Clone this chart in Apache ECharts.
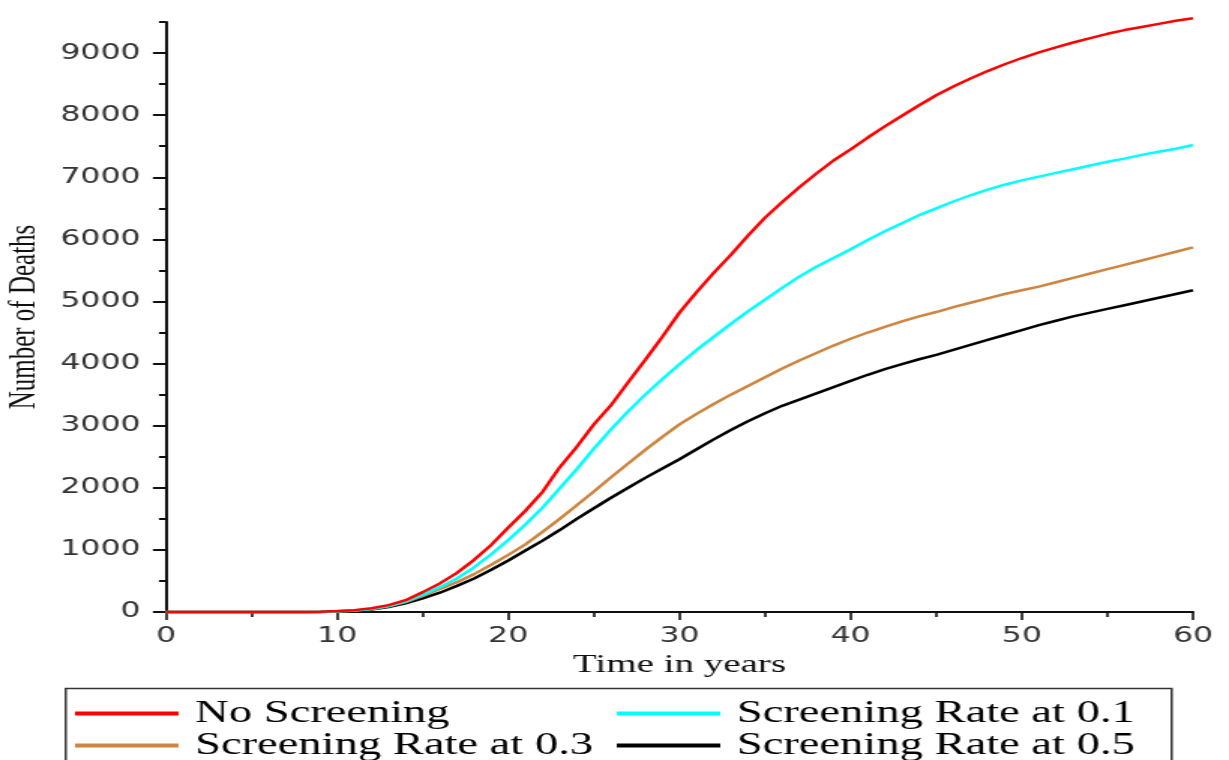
<!DOCTYPE html>
<html>
<head>
<meta charset="utf-8">
<script src="https://cdn.jsdelivr.net/npm/echarts@6/dist/echarts.min.js"></script>
<style>
html,body{margin:0;padding:0;background:#fff;overflow:hidden;}
#wrap{width:1229px;height:760px;overflow:hidden;position:relative;}
#chart{width:819px;height:760px;transform:scaleX(1.50061);transform-origin:0 0;}
</style>
</head>
<body>
<div id="wrap"><div id="chart"></div></div>
<script>
// Time in years
const years = [0,1,2,3,4,5,6,7,8,9,10,11,12,13,14,15,16,17,18,19,20,21,22,23,24,25,26,27,28,29,30,31,32,33,34,35,36,37,38,39,40,41,42,43,44,45,46,47,48,49,50,51,52,53,54,55,56,57,58,59,60];
// Number of deaths per scenario
const noScreening = [0,0,0,0,0,0,0,0,0,5,15,30,60,110,190,320,460,630,840,1080,1360,1630,1935,2330,2660,3020,3330,3700,4060,4433,4821,5150,5460,5750,6060,6350,6600,6840,7060,7270,7450,7640,7820,7990,8160,8320,8460,8590,8710,8820,8920,9010,9090,9170,9240,9310,9370,9420,9470,9520,9560];
const rate01 = [0,0,0,0,0,0,0,0,0,3,12,25,50,95,170,280,400,540,720,930,1160,1410,1680,1990,2300,2630,2940,3230,3500,3750,3990,4220,4430,4640,4840,5030,5220,5400,5560,5700,5840,5990,6130,6260,6390,6500,6610,6710,6800,6880,6950,7010,7070,7130,7190,7250,7300,7360,7410,7460,7520];
const rate03 = [0,0,0,0,0,0,0,0,0,2,10,22,45,90,160,260,370,480,610,760,920,1090,1290,1500,1720,1940,2170,2390,2610,2820,3020,3190,3350,3500,3640,3780,3920,4050,4170,4290,4400,4500,4590,4680,4760,4830,4910,4980,5050,5120,5180,5240,5310,5380,5450,5520,5590,5660,5730,5800,5870];
const rate05 = [0,0,0,0,0,0,0,0,0,2,8,20,40,80,140,220,310,420,540,680,830,990,1150,1320,1500,1670,1840,2000,2160,2310,2460,2620,2780,2930,3070,3200,3320,3420,3520,3620,3720,3820,3910,3990,4070,4140,4220,4300,4380,4460,4540,4620,4690,4760,4820,4880,4940,5000,5060,5120,5180];
// Tick values
const xTicks = [0,10,20,30,40,50,60];
const yMajorTicks = [0,1000,2000,3000,4000,5000,6000,7000,8000,9000];
const yMinorTicks = [500,1500,2500,3500,4500,5500,6500,7500,8500,9500];
const seriesNames = ['No Screening','Screening Rate at 0.1','Screening Rate at 0.3','Screening Rate at 0.5'];
const seriesColors = ['#ff0000','#00ffff','#cd853f','#000000'];
const seriesValues = [noScreening, rate01, rate03, rate05];
// legend slot for each series: [left, top]
const legendSlots = [[50,698],[411,698],[50,730],[411,730]];

const chart = echarts.init(document.getElementById('chart'));
const legendText = {fontFamily:'Liberation Serif', fontSize:31, color:'#000', lineHeight:30, padding:[0,0,0,6]};
chart.setOption({
  animation:false,
  backgroundColor:'#ffffff',
  grid:{left:110.6, right:24, top:22, bottom:148, containLabel:false, outerBoundsMode:'none'},
  xAxis:{
    type:'value', min:0, max:60, interval:10,
    name:'Time in years', nameLocation:'middle', nameGap:40,
    nameTextStyle:{fontFamily:'Liberation Serif', fontSize:26, color:'#111'},
    axisLine:{show:true, onZero:false, lineStyle:{color:'#111', width:2}},
    axisTick:{show:true, length:8, lineStyle:{color:'#111', width:1.6}},
    minorTick:{show:true, splitNumber:2, length:5, lineStyle:{color:'#111', width:1.6}},
    splitLine:{show:false}, minorSplitLine:{show:false},
    axisLabel:{fontFamily:'DejaVu Sans', fontSize:21, color:'#333', margin:14, customValues:xTicks, formatter:v=>String(v)}
  },
  yAxis:[{
    type:'value', min:0, max:9500, position:'left',
    name:'Number of Deaths', nameLocation:'middle', nameGap:81, nameRotate:90,
    nameTextStyle:{fontFamily:'Liberation Serif', fontSize:25, color:'#111'},
    axisLine:{show:true, onZero:false, lineStyle:{color:'#111', width:2}},
    axisTick:{show:true, length:8.7, customValues:yMajorTicks, lineStyle:{color:'#111', width:2}},
    splitLine:{show:false},
    axisLabel:{fontFamily:'DejaVu Sans', fontSize:21, color:'#333', margin:17, customValues:yMajorTicks, formatter:v=>String(v)}
  },{
    type:'value', min:0, max:9500, position:'left',
    axisLine:{show:false},
    axisTick:{show:true, length:4.7, customValues:yMinorTicks, lineStyle:{color:'#111', width:2}},
    splitLine:{show:false},
    axisLabel:{show:false}
  }],
  legend: seriesNames.map((n,k)=>({
    data:[n], orient:'horizontal', left:legendSlots[k][0], top:legendSlots[k][1], padding:0,
    icon:'rect', itemWidth:69, itemHeight:4, textStyle:legendText
  })),
  graphic:[{
    type:'rect', left:41.3, top:686, silent:true,
    shape:{width:737, height:100},
    style:{fill:'none', stroke:'#333', lineWidth:1.5}
  }],
  series: seriesNames.map((n,k)=>({
    name:n, type:'line', yAxisIndex:0, showSymbol:false, symbol:'none', clip:false,
    lineStyle:{color:seriesColors[k], width:2.5}, itemStyle:{color:seriesColors[k]},
    data: years.map((t,i)=>[t, seriesValues[k][i]])
  })).reverse()
});
</script>
</body>
</html>
